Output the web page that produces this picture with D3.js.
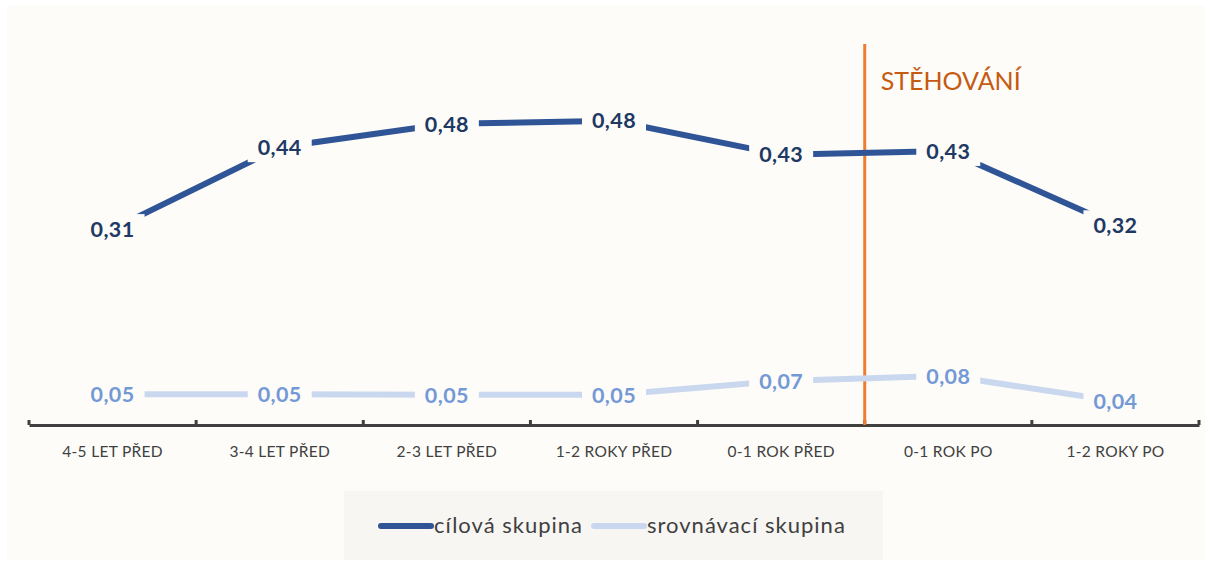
<!DOCTYPE html>
<html>
<head>
<meta charset="utf-8">
<script src="https://cdn.jsdelivr.net/npm/d3@7"></script>
<style>
  body { margin: 0; background: #ffffff; }
  svg text { font-family: Lato, "Open Sans", sans-serif; }
</style>
</head>
<body>
<svg id="chart" width="1212" height="564"></svg>
<script>
// categories on x axis
var categories = ['4-5 LET PŘED', '3-4 LET PŘED', '2-3 LET PŘED', '1-2 ROKY PŘED', '0-1 ROK PŘED', '0-1 ROK PO', '1-2 ROKY PO'];
// cílová skupina
var targetValues = [0.311, 0.441, 0.478, 0.483, 0.429, 0.435, 0.317];
// srovnávací skupina
var compareValues = [0.049, 0.049, 0.048, 0.048, 0.070, 0.078, 0.038];
var seriesNames = ['cílová skupina', 'srovnávací skupina'];
var moveLabel = 'STĚHOVÁNÍ';
var moveAfter = '0-1 ROK PŘED';

var svg = d3.select('#chart');

// chart panel
svg.append('rect').attr('x', 7).attr('y', 6).attr('width', 1198).attr('height', 554).attr('fill', '#fdfcf8');

var x = d3.scaleBand().domain(categories).range([29, 1199]);
var y = d3.scaleLinear().domain([0, 0.5]).range([425, 110]);

var fmt = function (v) { return d3.format('.2f')(v).replace('.', ','); };

// x axis
var axis = d3.axisBottom(x).tickSize(0).tickPadding(0);
var gx = svg.append('g').attr('transform', 'translate(0,425)').call(axis);
gx.select('.domain').attr('stroke', '#404040').attr('stroke-width', 3);
gx.selectAll('.tick text')
  .attr('dy', 0).attr('y', 32)
  .attr('font-size', 15.5).attr('fill', '#404040')
  .style('letter-spacing', '0.3px');

// tick marks at band boundaries
var bounds = categories.map(function (c) { return x(c); }).concat([x.range()[1]]);
gx.selectAll('.bound').data(bounds).enter().append('line')
  .attr('class', 'bound')
  .attr('x1', function (d) { return d; }).attr('x2', function (d) { return d; })
  .attr('y1', -5).attr('y2', 0)
  .attr('stroke', '#404040').attr('stroke-width', 3);

// move marker
var mx = x(moveAfter) + x.bandwidth();
svg.append('line')
  .attr('x1', mx).attr('x2', mx).attr('y1', 44).attr('y2', 425)
  .attr('stroke', '#ed7d31').attr('stroke-width', 3);
svg.append('text').attr('x', mx + 16).attr('y', 90)
  .attr('font-size', 25).attr('fill', '#c55a11').text(moveLabel);

var line = d3.line()
  .x(function (d, i) { return x(categories[i]) + x.bandwidth() / 2; })
  .y(function (d) { return y(d); });

function drawSeries(vals, lineColor, textColor) {
  svg.append('path').datum(vals)
    .attr('d', line)
    .attr('fill', 'none')
    .attr('stroke', lineColor)
    .attr('stroke-width', 6);

  var g = svg.append('g').selectAll('g').data(vals).enter().append('g')
    .attr('transform', function (d, i) {
      return 'translate(' + (x(categories[i]) + x.bandwidth() / 2) + ',' + y(d) + ')';
    });
  g.append('rect')
    .attr('x', -32).attr('y', -15).attr('width', 64).attr('height', 30)
    .attr('fill', '#fdfcf8');
  g.append('text')
    .attr('text-anchor', 'middle').attr('dy', '0.36em')
    .attr('font-size', 21.5).attr('font-weight', 'bold')
    .attr('fill', textColor)
    .style('letter-spacing', '0.4px')
    .text(function (d) { return fmt(d); });
}

drawSeries(compareValues, '#cad8ef', '#7399d6');
drawSeries(targetValues, '#2f5597', '#203864');

// legend
svg.append('rect').attr('x', 344).attr('y', 491).attr('width', 539).attr('height', 69).attr('fill', '#f7f6f3');
var legendColors = ['#2f5597', '#cad8ef'];
var legendX = [381, 594];
var lg = svg.selectAll('.leg').data(seriesNames).enter().append('g').attr('class', 'leg');
lg.append('line')
  .attr('x1', function (d, i) { return legendX[i]; })
  .attr('x2', function (d, i) { return legendX[i] + 50; })
  .attr('y1', 526).attr('y2', 526)
  .attr('stroke', function (d, i) { return legendColors[i]; })
  .attr('stroke-width', 6).attr('stroke-linecap', 'round');
lg.append('text')
  .attr('x', function (d, i) { return legendX[i] + 53; })
  .attr('y', 533)
  .attr('font-size', 22).attr('fill', '#404040')
  .style('letter-spacing', '1px')
  .text(function (d) { return d; });
</script>
</body>
</html>
